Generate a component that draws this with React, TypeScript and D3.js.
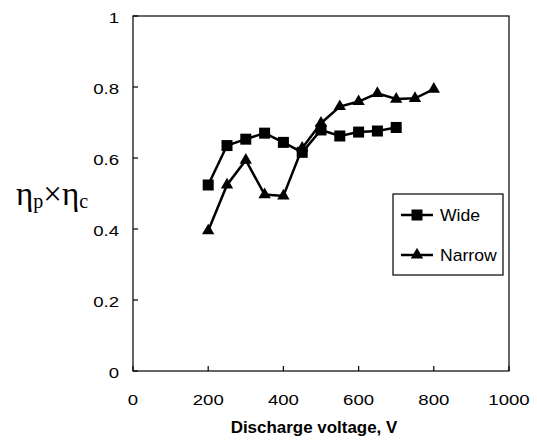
import React from "react";
import * as d3 from "d3";

const voltagesWide = [200, 250, 300, 350, 400, 450, 500, 550, 600, 650, 700];
const wideValues = [0.524, 0.635, 0.653, 0.67, 0.644, 0.616, 0.679, 0.662, 0.673, 0.676, 0.686];
const voltagesNarrow = [200, 250, 300, 350, 400, 450, 500, 550, 600, 650, 700, 750, 800];
const narrowValues = [0.395, 0.524, 0.594, 0.497, 0.493, 0.628, 0.698, 0.745, 0.759, 0.782, 0.766, 0.768, 0.794];
const xTicks = [0, 200, 400, 600, 800, 1000];
const yTicks = [0, 0.2, 0.4, 0.6, 0.8, 1];
const xTitle = "Discharge voltage, V";
const legendLabels = ["Wide", "Narrow"];

const W = 537;
const H = 440;
const L = 133, R = 509, T = 16, B = 371;
const font = "'Liberation Sans', Arial, sans-serif";

function SText(props: {
  x: number; y: number; sx: number; size: number; anchor?: string; weight?: string; children: React.ReactNode;
}) {
  return (
    <text
      transform={`translate(${props.x},${props.y}) scale(${props.sx},1)`}
      dy="0.38em"
      textAnchor={props.anchor || "start"}
      fontFamily={font}
      fontSize={props.size}
      fontWeight={props.weight || "normal"}
    >
      {props.children}
    </text>
  );
}

export default function App() {
  const x = d3.scaleLinear().domain([0, 1000]).range([L, R]);
  const y = d3.scaleLinear().domain([0, 1]).range([B, T]);
  const line = d3.line<[number, number]>().x((d) => x(d[0])).y((d) => y(d[1]));
  const wide: [number, number][] = voltagesWide.map((v, i) => [v, wideValues[i]]);
  const narrow: [number, number][] = voltagesNarrow.map((v, i) => [v, narrowValues[i]]);
  const sq = 11;
  const tri = d3.symbol().type(d3.symbolTriangle).size(66)() as string;
  const fmt = (v: number) => (v === 0 || v === 1 ? String(v) : v.toFixed(1));
  return (
    <svg width={W} height={H} style={{ position: "absolute", left: 0, top: 0, background: "#fff" }}>
      <rect x={L} y={T} width={R - L} height={B - T} fill="none" stroke="#000" strokeWidth={1.2} />
      {yTicks.map((t) => (
        <g key={"y" + t}>
          <line x1={L} x2={L + 5} y1={y(t)} y2={y(t)} stroke="#000" strokeWidth={1.2} />
          <SText x={L - 14} y={y(t) + 1} sx={1.2} size={15.5} anchor="end">{fmt(t)}</SText>
        </g>
      ))}
      {xTicks.map((t) => (
        <g key={"x" + t}>
          <line x1={x(t)} x2={x(t)} y1={B} y2={B - 5} stroke="#000" strokeWidth={1.2} />
          <SText x={x(t)} y={399.5} sx={1.2} size={15.5} anchor="middle">{t}</SText>
        </g>
      ))}
      <SText x={314} y={426.5} sx={1.06} size={16} anchor="middle" weight="bold">{xTitle}</SText>
      <text x={16} y={205} fontFamily="'Liberation Serif', 'Times New Roman', serif" fontSize={33}>
        η<tspan fontSize={20} dy={3}>p</tspan>
        <tspan dy={-3}>×η</tspan>
        <tspan fontSize={20} dy={3}>c</tspan>
      </text>
      <path d={line(wide) as string} fill="none" stroke="#000" strokeWidth={2.5} />
      <path d={line(narrow) as string} fill="none" stroke="#000" strokeWidth={2.5} />
      {wide.map((d, i) => (
        <rect key={"w" + i} x={x(d[0]) - sq / 2} y={y(d[1]) - sq / 2} width={sq} height={sq} fill="#000" />
      ))}
      {narrow.map((d, i) => (
        <path key={"n" + i} d={tri} transform={`translate(${x(d[0])},${y(d[1])})`} fill="#000" />
      ))}
      <g>
        <rect x={393} y={194} width={110} height={81} fill="#fff" stroke="#000" strokeWidth={1.2} />
        <line x1={401} x2={433} y1={215} y2={215} stroke="#000" strokeWidth={2.5} />
        <rect x={417 - sq / 2} y={215 - sq / 2} width={sq} height={sq} fill="#000" />
        <SText x={440} y={215} sx={1.1} size={16}>{legendLabels[0]}</SText>
        <line x1={401} x2={433} y1={255} y2={255} stroke="#000" strokeWidth={2.5} />
        <path d={tri} transform={`translate(417,255)`} fill="#000" />
        <SText x={440} y={255} sx={1.1} size={16}>{legendLabels[1]}</SText>
      </g>
    </svg>
  );
}
